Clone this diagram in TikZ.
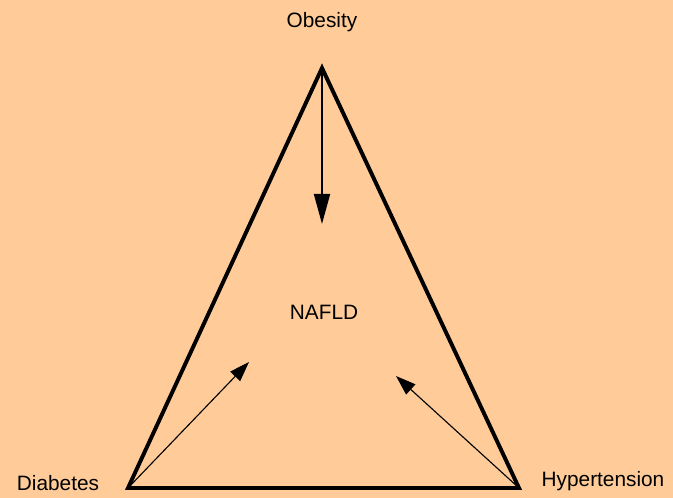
\documentclass[tikz,border=0pt]{standalone}
\usepackage{fontspec}
\setsansfont{Liberation Sans}
\usetikzlibrary{arrows.meta,positioning}
\definecolor{triPeach}{HTML}{FFCC99}
\definecolor{triInk}{HTML}{000000}
\tikzset{
  every picture/.style={font=\sffamily\fontsize{14.8}{17}\selectfont, text=triInk},
  tri label/.style={inner sep=1pt, text=triInk},
  tri side/.style={draw=triInk, line width=2.8pt, line join=miter},
  tri main arrow/.style={-{Triangle[length=7.5mm,width=4mm]},
    draw=triInk, line width=1.3pt},
  tri thin arrow/.style={-{Triangle[length=5mm,width=3.4mm]},
    draw=triInk, line width=0.8pt}
}
\begin{document}
\begin{tikzpicture}[x=0.025cm, y=-0.025cm]
  % background
  \fill[triPeach] (0,0) rectangle (673,498);
  \useasboundingbox (0,0) rectangle (673,498);
  % corners of the triangle
  \coordinate (top) at (322,68);
  \coordinate (left) at (128,488);
  \coordinate (right) at (519,488);
  % labels
  \node[tri label] (obesity) at (322,22) {Obesity};
  \node[tri label] (diabetes) at (58,483) {Diabetes};
  \node[tri label] (hyper) at (603,481) {Hypertension};
  \node[tri label] (nafld) at (324,312) {NAFLD};
  % arrow ends
  \coordinate (obEnd) at (322,224);
  \coordinate (diEnd) at (249,362);
  \coordinate (hyEnd) at (396,376);
  \draw[tri side] (top) -- (left) -- (right) -- cycle;
  \draw[tri main arrow] (top) -- (obEnd);
  \draw[tri thin arrow] (left) -- (diEnd);
  \draw[tri thin arrow] (right) -- (hyEnd);
\end{tikzpicture}
\end{document}
